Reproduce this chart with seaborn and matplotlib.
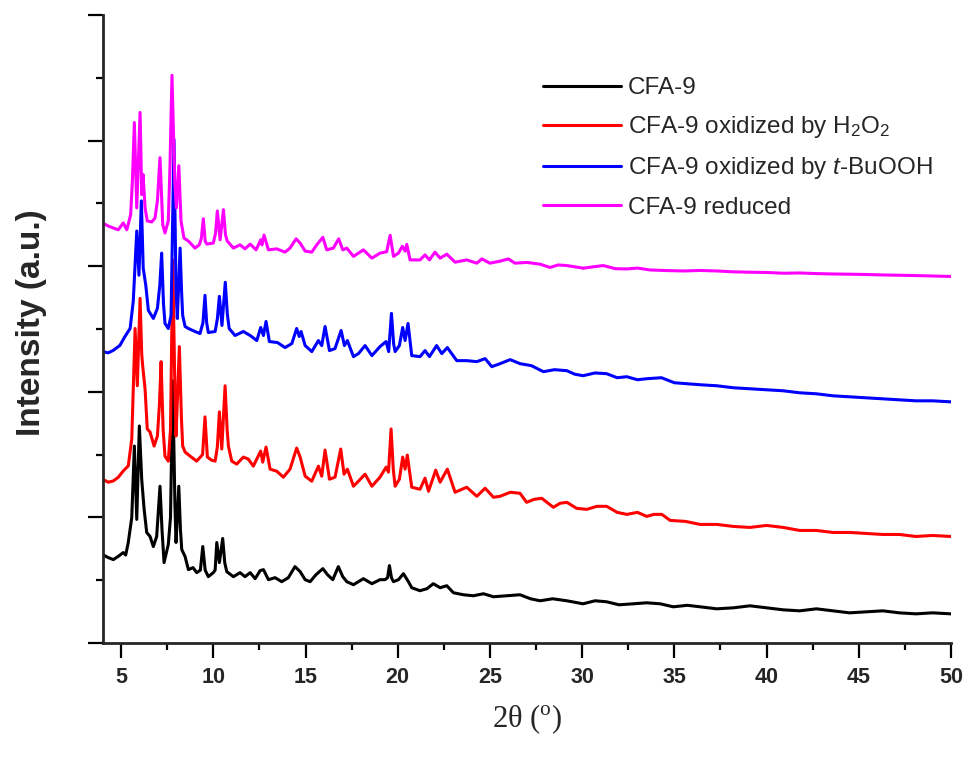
import matplotlib
matplotlib.use("Agg")
import matplotlib.pyplot as plt
from matplotlib.ticker import MultipleLocator
import pandas as pd
import seaborn as sns

# (2theta, intensity), offset traces as plotted
cfa9 = [(4.0, 704), (4.3, 680), (4.58, 664), (4.85, 690), (5.12, 720), (5.25, 700), (5.39, 800),
        (5.58, 1000), (5.72, 1568), (5.85, 984), (5.99, 1728), (6.12, 1300), (6.25, 1064), (6.39, 880),
        (6.57, 848), (6.75, 768), (6.93, 848), (7.11, 1248), (7.22, 900), (7.33, 640), (7.56, 784),
        (7.68, 1000), (7.80, 2088), (7.92, 1100), (7.98, 800), (8.13, 1248), (8.22, 900), (8.29, 744),
        (8.47, 688), (8.65, 584), (8.9, 600), (9.1, 560), (9.3, 580), (9.43, 768), (9.56, 580),
        (9.73, 528), (10.0, 560), (10.1, 580), (10.19, 800), (10.33, 640), (10.51, 832), (10.62, 640),
        (10.73, 568), (11.09, 528), (11.45, 560), (11.72, 528), (12.0, 560), (12.27, 512), (12.54, 576),
        (12.72, 584), (12.99, 504), (13.35, 520), (13.71, 488), (14.07, 520), (14.43, 608), (14.71, 568),
        (14.98, 504), (15.25, 488), (15.57, 544), (15.94, 592), (16.19, 544), (16.48, 504), (16.78, 608),
        (17.02, 528), (17.24, 488), (17.6, 464), (18.14, 512), (18.6, 472), (19.04, 504), (19.31, 504),
        (19.45, 520), (19.55, 616), (19.66, 520), (19.77, 488), (20.04, 504), (20.31, 552), (20.58, 488),
        (20.76, 440), (21.21, 416), (21.58, 432), (21.93, 472), (22.3, 440), (22.66, 456), (23.02, 400),
        (23.56, 384), (24.1, 376), (24.65, 392), (25.19, 368), (25.91, 376), (26.63, 384), (27.2, 352),
        (27.72, 336), (28.4, 352), (29.17, 336), (30.05, 312), (30.7, 336), (31.33, 328), (32.0, 304),
        (32.77, 312), (33.5, 320), (34.23, 312), (34.94, 288), (35.7, 300), (36.4, 288), (37.3, 272),
        (38.2, 280), (39.1, 296), (40.0, 280), (40.9, 264), (41.8, 256), (42.7, 272), (43.6, 256),
        (44.5, 240), (45.4, 248), (46.3, 256), (47.2, 240), (48.1, 232), (49.0, 240), (50.0, 232)]

cfa9_h2o2 = [(4.0, 1304), (4.3, 1280), (4.58, 1290), (4.85, 1320), (5.12, 1370), (5.39, 1410),
             (5.58, 1624), (5.76, 2504), (5.88, 2048), (6.03, 2744), (6.12, 2300), (6.17, 2208),
             (6.30, 2024), (6.42, 1704), (6.57, 1680), (6.79, 1568), (6.97, 1648), (7.08, 1900),
             (7.17, 2240), (7.28, 1700), (7.38, 1488), (7.56, 1448), (7.68, 1700), (7.80, 3050),
             (7.92, 2000), (7.98, 1648), (8.16, 2360), (8.27, 1800), (8.34, 1568), (8.47, 1520),
             (8.74, 1488), (9.1, 1448), (9.42, 1500), (9.55, 1800), (9.68, 1480), (9.9, 1456),
             (10.1, 1448), (10.22, 1560), (10.33, 1840), (10.46, 1544), (10.64, 2048), (10.75, 1700),
             (10.82, 1568), (11.0, 1448), (11.27, 1424), (11.63, 1480), (11.9, 1464), (12.17, 1408),
             (12.57, 1528), (12.68, 1440), (12.86, 1560), (13.08, 1384), (13.44, 1368), (13.8, 1320),
             (14.16, 1384), (14.52, 1552), (14.71, 1480), (14.98, 1328), (15.34, 1288), (15.7, 1408),
             (15.88, 1328), (16.06, 1536), (16.3, 1304), (16.6, 1320), (16.91, 1544), (17.09, 1344),
             (17.27, 1384), (17.6, 1248), (17.87, 1288), (18.23, 1344), (18.6, 1248), (19.04, 1320),
             (19.37, 1400), (19.5, 1360), (19.64, 1704), (19.76, 1380), (19.86, 1248), (20.09, 1304),
             (20.27, 1480), (20.4, 1384), (20.52, 1496), (20.76, 1240), (21.21, 1224), (21.48, 1312),
             (21.67, 1208), (22.06, 1376), (22.3, 1280), (22.69, 1384), (23.11, 1200), (23.74, 1240),
             (24.29, 1168), (24.74, 1232), (25.19, 1160), (25.55, 1168), (26.1, 1200), (26.63, 1192),
             (26.99, 1120), (27.4, 1144), (27.81, 1152), (28.44, 1080), (28.8, 1112), (29.17, 1120),
             (29.7, 1072), (30.25, 1064), (30.8, 1088), (31.33, 1088), (31.9, 1040), (32.42, 1024),
             (33.0, 1040), (33.5, 1008), (33.9, 1024), (34.32, 1024), (34.77, 976), (35.6, 968),
             (36.4, 944), (37.3, 944), (38.2, 928), (39.1, 920), (40.0, 936), (40.9, 920), (41.8, 896),
             (42.7, 896), (43.6, 880), (44.5, 880), (45.4, 872), (46.3, 864), (47.2, 864), (48.1, 848),
             (49.0, 856), (50.0, 848)]

cfa9_tbuooh = [(4.0, 2320), (4.3, 2310), (4.58, 2330), (4.94, 2370), (5.21, 2440), (5.49, 2504),
               (5.66, 2720), (5.85, 3280), (5.97, 2928), (6.1, 3520), (6.2, 2984), (6.34, 2848),
               (6.48, 2648), (6.75, 2584), (6.97, 2664), (7.1, 2850), (7.2, 3104), (7.3, 2700),
               (7.38, 2544), (7.56, 2504), (7.71, 2608), (7.87, 4008), (7.98, 2800), (8.05, 2584),
               (8.2, 3144), (8.28, 2800), (8.34, 2608), (8.47, 2520), (8.65, 2504), (9.01, 2480),
               (9.28, 2464), (9.44, 2550), (9.55, 2768), (9.64, 2550), (9.73, 2472), (10.1, 2480),
               (10.22, 2580), (10.33, 2760), (10.47, 2528), (10.65, 2872), (10.76, 2620), (10.86, 2504),
               (11.18, 2448), (11.63, 2480), (12.0, 2448), (12.36, 2408), (12.57, 2512), (12.72, 2448),
               (12.86, 2560), (13.04, 2400), (13.48, 2392), (13.89, 2352), (14.26, 2384), (14.52, 2504),
               (14.66, 2440), (14.76, 2480), (14.98, 2368), (15.34, 2320), (15.7, 2408), (15.88, 2368),
               (16.06, 2520), (16.3, 2328), (16.6, 2344), (16.93, 2488), (17.11, 2368), (17.27, 2408),
               (17.6, 2280), (17.87, 2304), (18.23, 2368), (18.6, 2288), (19.04, 2360), (19.37, 2400),
               (19.51, 2320), (19.66, 2624), (19.78, 2380), (19.86, 2320), (20.09, 2368), (20.27, 2512),
               (20.4, 2408), (20.56, 2544), (20.76, 2288), (21.21, 2280), (21.48, 2328), (21.72, 2280),
               (22.11, 2368), (22.39, 2304), (22.69, 2352), (23.2, 2248), (23.74, 2248), (24.29, 2240),
               (24.74, 2264), (25.1, 2200), (25.55, 2224), (26.1, 2256), (26.63, 2224), (27.25, 2208),
               (27.9, 2160), (28.5, 2176), (29.17, 2168), (29.6, 2140), (30.05, 2128), (30.7, 2150),
               (31.33, 2144), (31.9, 2112), (32.42, 2120), (33.0, 2096), (33.5, 2104), (34.3, 2112),
               (35.0, 2072), (35.7, 2064), (36.4, 2056), (37.3, 2048), (38.2, 2032), (39.1, 2024),
               (40.0, 2016), (40.9, 2008), (41.8, 1992), (42.7, 1984), (43.6, 1968), (44.5, 1960),
               (45.4, 1952), (46.3, 1944), (47.2, 1936), (48.1, 1928), (49.0, 1928), (50.0, 1920)]

cfa9_reduced = [(4.0, 3344), (4.3, 3320), (4.58, 3304), (4.85, 3290), (5.12, 3344), (5.31, 3290),
                (5.52, 3410), (5.62, 3700), (5.72, 4144), (5.85, 3464), (6.03, 4224), (6.12, 3570),
                (6.19, 3730), (6.3, 3464), (6.42, 3360), (6.66, 3352), (6.84, 3384), (6.97, 3520),
                (7.11, 3864), (7.26, 3330), (7.38, 3264), (7.56, 3360), (7.65, 3784), (7.76, 4520),
                (7.91, 3680), (8.0, 3464), (8.13, 3800), (8.25, 3360), (8.41, 3224), (8.65, 3200),
                (9.01, 3144), (9.24, 3170), (9.35, 3220), (9.46, 3378), (9.56, 3200), (9.65, 3176),
                (10.0, 3184), (10.12, 3260), (10.22, 3440), (10.37, 3210), (10.55, 3450), (10.66, 3250),
                (10.76, 3200), (11.09, 3144), (11.45, 3170), (11.72, 3138), (12.0, 3176), (12.32, 3130),
                (12.57, 3210), (12.64, 3170), (12.75, 3248), (12.99, 3130), (13.44, 3138), (13.89, 3112),
                (14.16, 3144), (14.49, 3218), (14.71, 3184), (14.98, 3120), (15.34, 3112), (15.61, 3170),
                (15.94, 3230), (16.15, 3130), (16.51, 3144), (16.8, 3218), (17.02, 3130), (17.24, 3144),
                (17.6, 3078), (18.14, 3130), (18.6, 3064), (19.04, 3104), (19.4, 3115), (19.59, 3246),
                (19.77, 3078), (20.04, 3104), (20.25, 3158), (20.4, 3120), (20.49, 3174), (20.67, 3050),
                (21.21, 3050), (21.48, 3090), (21.72, 3050), (22.02, 3112), (22.3, 3064), (22.66, 3096),
                (23.11, 3032), (23.74, 3050), (24.29, 3024), (24.56, 3058), (25.0, 3024), (25.55, 3040),
                (26.0, 3058), (26.36, 3024), (27.0, 3030), (27.72, 3016), (28.26, 2990), (28.7, 3010),
                (29.17, 3005), (30.07, 2984), (30.6, 2995), (31.15, 3005), (31.8, 2980), (32.42, 2978),
                (33.0, 2985), (33.68, 2970), (34.6, 2965), (35.49, 2962), (36.4, 2966), (37.3, 2962),
                (38.2, 2955), (39.1, 2952), (40.0, 2950), (40.9, 2944), (41.8, 2946), (42.72, 2941),
                (43.6, 2938), (44.53, 2936), (45.4, 2934), (46.34, 2930), (47.2, 2928), (48.15, 2925),
                (49.0, 2922), (50.0, 2918)]

sample_names = ['CFA-9',
                r'CFA-9 oxidized by H$_{\mathregular{2}}$O$_{\mathregular{2}}$',
                r'CFA-9 oxidized by $\mathit{t}$-BuOOH',
                'CFA-9 reduced']
line_colors = ['#000000', '#ff0000', '#0000ff', '#ff00ff']
xtick_values = [5, 10, 15, 20, 25, 30, 35, 40, 45, 50]

frames = []
for name, pts in zip(sample_names, [cfa9, cfa9_h2o2, cfa9_tbuooh, cfa9_reduced]):
    d = pd.DataFrame(pts, columns=['two_theta', 'intensity'])
    d['sample'] = name
    frames.append(d)
df = pd.concat(frames, ignore_index=True)

sns.set_style('ticks')
plt.rcParams['font.family'] = ['Liberation Sans', 'DejaVu Sans']
plt.rcParams['mathtext.fontset'] = 'custom'
plt.rcParams['mathtext.rm'] = 'Liberation Sans'
plt.rcParams['mathtext.it'] = 'Liberation Sans:italic'

fig = plt.figure(figsize=(9.71, 7.65), dpi=100)
ax = fig.add_axes([0.1057, 0.1595, 0.8737, 0.8209])
sns.lineplot(data=df, x='two_theta', y='intensity', hue='sample', hue_order=sample_names,
             palette=line_colors, estimator=None, sort=False, linewidth=2.2, ax=ax)

sns.despine(ax=ax)
for side in ['left', 'bottom']:
    ax.spines[side].set_linewidth(2)

ax.set_xlim(4, 50)
ax.set_ylim(0, 5000)
ax.set_xticks(xtick_values)
ax.set_xticklabels([str(v) for v in xtick_values], fontsize=15.5, fontweight='bold',
                   family=['Liberation Sans Narrow', 'Liberation Sans'])
ax.xaxis.set_minor_locator(MultipleLocator(2.5))
ax.yaxis.set_major_locator(MultipleLocator(1000))
ax.yaxis.set_minor_locator(MultipleLocator(500))
ax.tick_params(which='major', direction='out', length=10.5, width=1.6, color='black', pad=7)
ax.tick_params(which='minor', direction='out', length=5, width=1.6, color='black')
ax.tick_params(axis='y', labelleft=False)

ax.set_xlabel(r'2θ ($^{\mathregular{o}}$)', family='Liberation Serif', fontsize=22)
ax.xaxis.set_label_coords(0.5, -0.095)
ax.set_ylabel('Intensity (a.u.)', fontsize=24, fontweight='bold')
ax.yaxis.set_label_coords(-0.066, 0.51)

handles, labels = ax.get_legend_handles_labels()
ax.legend(handles, labels, loc='upper left', bbox_to_anchor=(0.559, 0.899),
          bbox_transform=fig.transFigure, frameon=False, fontsize=17.5,
          handlelength=3.2, handletextpad=0.3, labelspacing=0.62,
          borderpad=0, borderaxespad=0)

fig.savefig('out.png', dpi=100)
